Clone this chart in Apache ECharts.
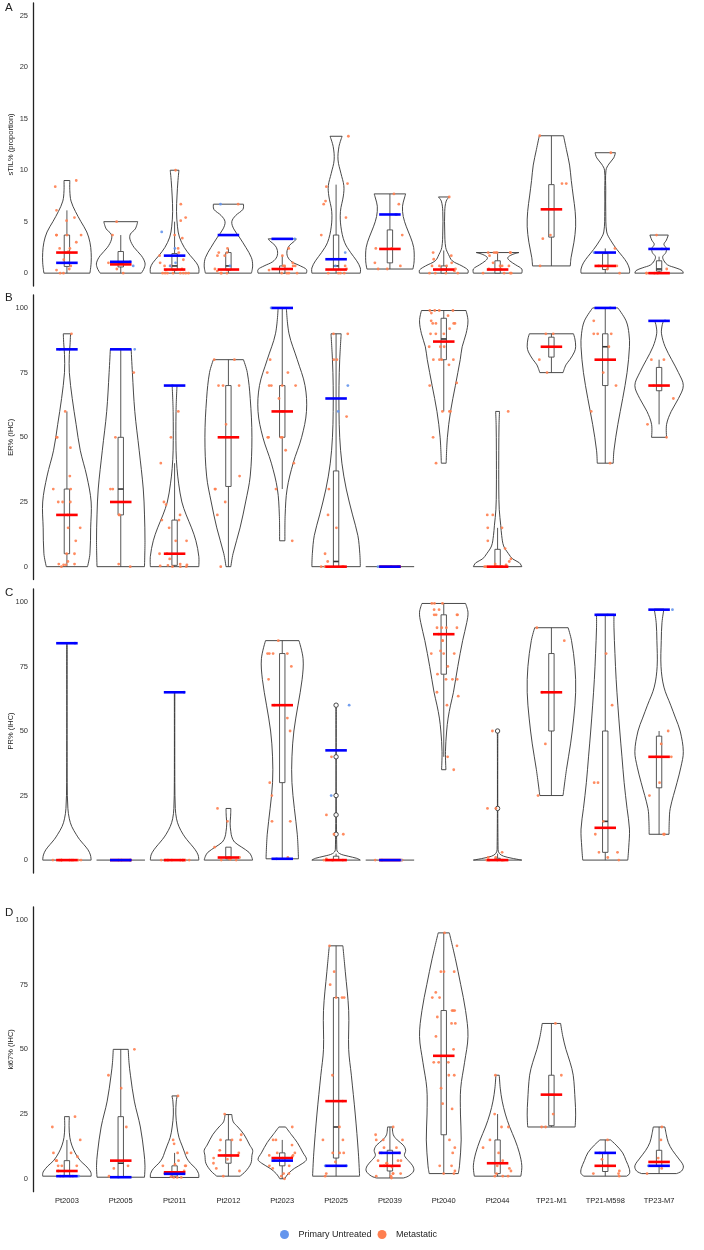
<!DOCTYPE html>
<html>
<head>
<meta charset="utf-8">
<script src="https://cdn.jsdelivr.net/npm/echarts@6.0.0/dist/echarts.min.js"></script>
<style>
html,body{margin:0;padding:0;background:#fff;}
#chart{width:704px;height:1250px;}
</style>
</head>
<body>
<div id="chart"></div>
<script>
var cats=['Pt2003','Pt2005','Pt2011','Pt2012','Pt2023','Pt2025','Pt2039','Pt2040','Pt2044','TP21-M1','TP21-M598','TP23-M7'];

// violin outlines: [value, relative half width]
var tilViolin=[
	[[0,0.95],[1,1],[2,1],[3,0.95],[4,0.82],[5,0.58],[6,0.35],[7,0.17],[8,0.12],[9,0.12]],
	[[0,0.85],[0.5,0.97],[1,1],[1.7,0.85],[2.5,0.55],[3.3,0.38],[3.8,0.4],[4.3,0.6],[5,0.7]],
	[[0,1],[0.5,1],[1,0.9],[1.7,0.65],[2.5,0.4],[3.5,0.2],[4.5,0.12],[6,0.08],[7.5,0.1],[9,0.14],[10,0.18]],
	[[0,0.95],[0.7,1],[1.5,0.95],[2.5,0.72],[3.5,0.45],[4.3,0.22],[5,0.14],[5.6,0.3],[6.2,0.6],[6.7,0.62]],
	[[0,1],[0.35,1],[0.7,0.75],[1.1,0.4],[1.6,0.22],[2.2,0.2],[2.7,0.3],[3.1,0.5],[3.33,0.58]],
	[[0,1],[0.5,1],[1.2,0.85],[2,0.6],[3,0.35],[4.5,0.2],[6,0.18],[7.5,0.3],[8.5,0.32],[9.7,0.2],[11,0.08],[12.3,0.12],[13.3,0.25]],
	[[0.4,0.95],[1.2,1],[2.5,0.98],[3.5,0.85],[4.5,0.68],[5.5,0.55],[6.5,0.52],[7.3,0.6],[7.7,0.65]],
	[[0,1],[0.3,1],[0.7,0.75],[1.2,0.35],[1.8,0.2],[2.5,0.08],[4,0.04],[6,0.04],[7,0.1],[7.4,0.22]],
	[[0,1],[0.4,1],[0.8,0.75],[1.2,0.5],[1.5,0.42],[1.8,0.6],[2,0.88]],
	[[0.7,0.78],[1.5,0.81],[3,0.93],[4.5,1],[6,0.98],[7.5,0.9],[9,0.82],[10.5,0.75],[12,0.62],[13.35,0.5]],
	[[0,1],[0.4,1],[1,0.9],[1.6,0.72],[2.3,0.48],[3.2,0.22],[4,0.06],[6,0.02],[8,0.02],[10,0.03],[10.6,0.15],[11.2,0.35],[11.7,0.42]],
	[[0,1],[0.25,0.95],[0.5,0.7],[0.8,0.35],[1.2,0.2],[1.6,0.15],[2,0.28],[2.4,0.3],[2.8,0.2],[3.2,0.3],[3.7,0.38]]
];
var erViolin=[
	[[0,0.85],[5,0.95],[15,0.98],[25,1],[35,0.82],[45,0.55],[55,0.38],[65,0.22],[75,0.1],[82,0.1],[86,0.13],[90,0.15]],
	[[0,0.98],[10,1],[20,0.98],[30,0.93],[45,0.76],[60,0.58],[75,0.48],[84,0.43]],
	[[0,1],[4,1],[10,0.88],[15,0.7],[20,0.48],[25,0.3],[32,0.17],[38,0.1],[45,0.06],[60,0.06],[70,0.1]],
	[[0,0.1],[5,0.19],[15,0.48],[25,0.71],[35,0.9],[50,0.97],[65,0.9],[75,0.78],[80,0.62]],
	[[10,0.11],[20,0.12],[30,0.2],[40,0.45],[50,0.8],[60,1],[70,0.94],[80,0.62],[90,0.28],[100,0.17]],
	[[0,1],[5,0.98],[12,0.9],[20,0.68],[30,0.42],[40,0.24],[50,0.15],[60,0.12],[70,0.12],[80,0.15],[90,0.21]],
	[[0,1]],
	[[40,0.1],[50,0.15],[60,0.28],[70,0.48],[80,0.68],[85,0.76],[90,0.92],[95,1],[99,0.92]],
	[[0,1],[1.5,0.9],[3,0.62],[5,0.45],[8,0.25],[12,0.17],[16,0.13],[22,0.07],[30,0.05],[45,0.05],[55,0.06],[60,0.08]],
	[[75,0.48],[78,0.6],[80,0.76],[83,0.95],[85,1],[88,0.97],[90,0.91]],
	[[40,0.33],[45,0.36],[55,0.52],[65,0.72],[75,0.9],[85,1],[90,0.98],[95,0.86],[100,0.52]],
	[[50,0.31],[55,0.31],[60,0.5],[65,0.8],[70,1],[75,0.8],[80,0.52],[85,0.25],[90,0.1],[93,0.12],[95,0.18]]
];
var prViolin=[
	[[0,1],[2,0.97],[4,0.87],[6,0.7],[8,0.52],[10,0.38],[13,0.2],[16,0.1],[20,0.04],[30,0.01],[84,0.01]],
	[[0,1]],
	[[0,1],[2,0.97],[4,0.85],[6,0.68],[8,0.5],[10,0.35],[13,0.18],[16,0.08],[20,0.03],[30,0.01],[65,0.01]],
	[[0,1],[1.5,0.95],[3,0.85],[5,0.55],[7,0.25],[9,0.14],[11,0.1],[14,0.07],[17,0.09],[20,0.1]],
	[[0.5,0.67],[10,0.62],[20,0.5],[30,0.4],[40,0.4],[50,0.48],[60,0.65],[70,0.82],[78,0.86],[85,0.69]],
	[[0,1],[0.7,0.85],[1.5,0.5],[2.5,0.15],[4,0.03],[60,0.01]],
	[[0,1]],
	[[35,0.09],[42,0.07],[50,0.12],[55,0.18],[60,0.28],[65,0.4],[75,0.58],[85,0.78],[92,0.95],[96,1],[99.4,0.9]],
	[[0,1],[0.7,0.6],[1.5,0.25],[2.5,0.08],[4,0.02],[50,0.01]],
	[[25,0.48],[35,0.62],[45,0.79],[55,0.92],[65,1],[75,0.97],[85,0.83],[90,0.69]],
	[[0,0.93],[5,0.97],[12,1],[20,0.9],[30,0.78],[40,0.69],[50,0.6],[60,0.52],[70,0.45],[80,0.4],[90,0.36],[95.2,0.36]],
	[[10,0.41],[15,0.42],[20,0.46],[30,0.74],[36,0.9],[42,1],[50,0.87],[55,0.68],[60,0.48],[67,0.2],[75,0.08],[85,0.09],[92,0.12],[97.2,0.2]]
];
var kiViolin=[
	[[1,1],[2,1],[3,0.96],[5,0.78],[7,0.55],[10,0.34],[13,0.2],[16,0.12],[20,0.09],[24,0.1]],
	[[0.6,0.98],[5,1],[10,0.96],[20,0.81],[30,0.56],[40,0.4],[45,0.34],[50,0.31]],
	[[0.5,1],[2,0.99],[4,0.87],[6,0.65],[8,0.5],[10,0.42],[13,0.3],[16,0.18],[20,0.1],[25,0.05],[30,0.07],[32,0.11]],
	[[1,0.48],[3,0.72],[6,0.93],[9,0.97],[11,1],[13,0.88],[17,0.65],[20,0.39],[22,0.2],[24.8,0.14]],
	[[0,0.1],[2,0.25],[4,0.5],[6,0.85],[7.5,1],[10,0.86],[14,0.62],[17,0.38],[20,0.14]],
	[[1,0.97],[10,0.92],[25,0.79],[40,0.63],[50,0.52],[65,0.52],[80,0.38],[90,0.28]],
	[[0.3,0.55],[1,0.76],[3,0.98],[5,0.94],[7,0.76],[9,0.6],[11,0.65],[13,0.55],[15,0.3],[17,0.14],[20,0.1]],
	[[2,0.6],[5,0.65],[15,0.72],[25,0.69],[35,0.7],[45,0.86],[55,1],[65,0.9],[75,0.7],[85,0.48],[95,0.23]],
	[[1,0.96],[5,1],[10,0.9],[15,0.72],[20,0.5],[25,0.32],[30,0.19],[35,0.11],[40,0.07]],
	[[20,0.98],[25,1],[30,0.98],[40,0.9],[45,0.77],[50,0.6],[55,0.47],[60,0.38]],
	[[1,0.88],[2,1],[4,0.99],[7,0.86],[10,0.72],[13,0.45],[15,0.22]],
	[[2,0.72],[3,0.93],[5,1],[8,0.79],[11,0.55],[14,0.38],[17,0.3],[20,0.24]]
];

// box stats: [low whisker, q1, median, q3, high whisker]
var tilBox=[[0,0.65,2,3.7,6.1],[0,0.6,0.9,2.1,3.7],[0,0.3,0.7,1.9,5],[0,0.3,0.7,2,2.4],[0,0,0.4,0.7,1.7],[0,0.35,0.7,3.7,8.6],
	[0.4,1,2.35,4.2,7.7],[0,0,0.35,0.7,2.2],[0,0,0.35,1.2,2],[0.7,3.5,6.2,8.6,13.35],[0,0.35,0.7,1.9,2.4],[0,0.2,0.4,1.2,1.6]];
var erBox=[[0,5,20,30,60],[0,20,30,50,84],[0,0.5,5,18,40],[0,31,50,70,80],[30,50,60,70,100],[0,0,2,37,90],
	[0,0,0,0,0],[60,80,88,96,99],[0,0,0,6.7,15],[75,81,85,88.7,90],[40,70,85,90,100],[55,68,70,77,80]];
var prBox=[[0,0,0,0,0],[0,0,0,0,0],[0,0,0,0,0],[0,0.5,1,5,5],[0.5,30,60,80,85],[0,0,0,1.5,2.5],
	[0,0,0,0,0],[40,72,87.5,95,99.4],[0,0,0,0.7,2.5],[25,50,65,80,90],[0,3,15,50,95.2],[10,28,40,48,50]];
var kiBox=[[1,1,3,7,15],[0.6,0.6,6,24,50],[0.5,1,2.5,5,10],[1,6,9,15,25],[0,5,8,10,15],[1,8,20,70,90],
	[0.3,3,5,11,20],[2,17,47.5,65,95],[1,2,6,15,25],[20,20.5,32.5,40,60],[1,2.8,5,10,15],[2,5,6.5,11,20]];
var prOutliers=[[],[],[],[],[],[10,17.5,25,40,60],[],[],[20,50],[],[],[]];

// metastatic samples
var tilMeta=[
	[9,8.4,6.1,5.4,5.1,3.7,3.7,3.7,3.7,3,2.4,2.4,2.1,1.3,0.7,0.4,0.3,0,0],
	[5,3.7,1,0.4,0],
	[10,6.7,5.4,5.1,3.4,3.7,2.4,2,1.7,1.3,1,0.7,0.7,0.4,0.3,0,0,0,0,0,0,0,0],
	[6.7,2.4,2,2,1.7,1.7,0.4,0.2,0,0,0],
	[2.4,1.7,1,0.7,0.7,0.7,0.7,0.3,0,0,0,0],
	[13.3,8.7,8.4,7,6.7,5.4,3.7,0.7,0.4,0,0,0,0],
	[7.7,6.7,5.7,3.7,2.4,2.4,1,0.7,0.4,0.4],
	[7.4,2,1.7,1.35,1,0.7,0.7,0.7,0.4,0.2,0,0,0,0],
	[2,2,2,2,2,2,1.7,1,0.7,0.7,0.7,0.4,0.4,0,0,0,0],
	[13.35,8.7,8.7,3.7,3.35,0.7],
	[11.7,2.4,0.7,0.7,0.4,0],
	[3.7,0.4,0,0,0,0]
];
var erMeta=[
	[90,60,50,50,46,35,30,30,25,25,25,20,15,15,10,5,5,2,1,0.7,0.7,1,0],
	[75,50,30,30,20,20,1,0],
	[60,50,40,25,24,20,18,18,15,10,10,5,5,3,1,0.7,0.3,0,0,0,0.5],
	[80,80,70,70,70,55,35,30,30,25,20,0],
	[80,75,75,70,70,70,70,65,60,50,50,50,50,45,40,30,10],
	[90,90,80,80,58,30,20,15,5,2,0,0,0,0],
	[0,0,0],
	[99,98,97,99,99,99,95,94,94,94,94,92,90,90,90,85,85,85,80,80,80,80,78,71,70,60,60,60,50,40],
	[60,20,20,15,15,10,7,3,2,0,0,0,0,0,0.7,1],
	[90,90,80,75],
	[95,90,90,90,85,75,70,60,40],
	[80,80,70,65,55,50]
];
var prMeta=[
	[0,0,0,0,0,0,0,0,0,0],
	[0,0,0],
	[0,0,0,0,0,0,0,0,0,0],
	[20,15,5,1,1,0,0.3,0.5,0],
	[85,80,80,80,80,75,70,60,55,50,30,25,15,15,1],
	[40,10,10,17.5,0,0,0,0,0,0.5],
	[0,0,0,0],
	[99.4,99.4,99.4,97,95,97,95,95,95,90,90,90,90,87.5,85,85,81,80,80,80,75,70,70,72,65,63.5,60,40,35,70],
	[50,20,20,3,1,1,0,0,0,0,0,0],
	[90,85,65,45,25],
	[80,60,30,30,15,10,1,3,3,0],
	[50,45,30,25,40,40,10,10]
];
var kiMeta=[
	[24,20,15,10,10,8.5,7,7,5,5,5,3,1,1,1,1],
	[50,40,35,20,5,4,1],
	[32,15,13.5,10,10,7,5.5,5,5,5,3,2,2,2,0.5,0.5,0.5,0.8],
	[25,17,15,15,15,11,10,9,9,8,7.5,6,4,3,1],
	[20,15,15,13,10,10,9,9,8.5,8,5,5,4,2,2,1,0],
	[90,80,75,70,70,70,40,30,20,15,15,10,10,10,6.5,2,1],
	[20,17,15,15,15,12,12,10,10,7,7,7,6,6,5,4.5,2,2,2,1,0.3,1],
	[95,90,80,80,80,70,70,72,65,65,65,62.5,60,60,55,50,45,45,45,40,40,35,29,27,15,12,10,5,5,3,2,2],
	[40,25,20,20,15,12,10,7,5,4,3,2,1,1,1],
	[60,40,25,20,20],
	[15,10,7.5,3,2,2,1],
	[20,15,8,4,2]
];

// primary untreated samples
var tilPrim=[[1],[0.7,1.1],[4,2.4,1,0.7],[6.7,0.7],[3.33],[2,0.7],[5.7],[],[],[],[2],[2.35]];
var erPrim=[[84],[84],[70],[],[100],[70,60],[0],[],[],[],[100],[95]];
var prPrim=[[84],[0],[65],[],[0.5],[60,25],[0],[],[],[],[95],[97]];
var kiPrim=[[1],[0.6],[2.5],[],[7],[5,5],[10],[],[],[],[10],[5]];

// group medians
var tilMetaMed=[2,0.85,0.35,0.35,0.4,0.35,2.35,0.35,0.35,6.2,0.7,0];
var tilPrimMed=[1,1.1,1.7,3.7,3.33,1.35,5.7,null,null,null,2,2.35];
var erMetaMed=[20,25,5,50,60,0,0,87,0,85,80,70];
var erPrimMed=[84,84,70,null,100,65,0,null,null,null,100,95];
var prMetaMed=[0,0,0,1,60,0,0,87.5,0,65,12.5,40];
var prPrimMed=[84,0,65,null,0.5,42.5,0,null,null,null,95,97];
var kiMetaMed=[3,7,2.5,9,8,30,5,47.5,6,32.5,5,6.5];
var kiPrimMed=[1,0.6,1.9,null,7,5,10,null,null,null,10,5];

var tilTicks=[0,5,10,15,20,25];
var pctTicks=[0,25,50,75,100];

var panels=[
	{letter:'A',name:'sTIL% (proportion)',min:-1.25,max:26.25,ticks:tilTicks,violin:tilViolin,box:tilBox,meta:tilMeta,prim:tilPrim,metaMed:tilMetaMed,primMed:tilPrimMed,outl:null},
	{letter:'B',name:'ER% (IHC)',min:-5,max:105,ticks:pctTicks,violin:erViolin,box:erBox,meta:erMeta,prim:erPrim,metaMed:erMetaMed,primMed:erPrimMed,outl:null},
	{letter:'C',name:'PR% (IHC)',min:-5,max:105,ticks:pctTicks,violin:prViolin,box:prBox,meta:prMeta,prim:prPrim,metaMed:prMetaMed,primMed:prPrimMed,outl:prOutliers},
	{letter:'D',name:'ki67% (IHC)',min:-5,max:105,ticks:pctTicks,violin:kiViolin,box:kiBox,meta:kiMeta,prim:kiPrim,metaMed:kiMetaMed,primMed:kiPrimMed,outl:null}
];
var tops=[3,295,589,907];
var heights=[283,284.6,284,284.7];
var letterTops=[2,292,587,907];

var FONT='Liberation Sans';
var META_COLOR='#FF7F50';
var PRIM_COLOR='#6495ED';

function jitter(p,g,k){
	var s=Math.sin(p*97.13+g*13.71+k*7.31+1.7)*43758.5453;
	return (s-Math.floor(s))*2-1;
}

function violinSeries(p,knotsArr){
	return {
		type:'custom',xAxisIndex:p,yAxisIndex:p,silent:true,z:1,
		data:knotsArr.map(function(k,i){return [i,k[0][0]];}),
		renderItem:function(params,api){
			var g=api.value(0);
			var knots=knotsArr[g];
			var band=api.size([1,0])[0];
			var hw=band*0.45;
			var st={stroke:'#333',lineWidth:0.9,fill:null};
			var right=[],left=[];
			for(var i=0;i<knots.length;i++){
				var c=api.coord([g,knots[i][0]]);
				right.push([c[0]+hw*knots[i][1],c[1]]);
				left.push([c[0]-hw*knots[i][1],c[1]]);
			}
			var n=knots.length-1;
			var ch=[
				{type:'line',shape:{x1:left[0][0],y1:left[0][1],x2:right[0][0],y2:right[0][1]},style:st}
			];
			if(n>0){
				ch.push({type:'line',shape:{x1:left[n][0],y1:left[n][1],x2:right[n][0],y2:right[n][1]},style:st});
				ch.push({type:'polyline',shape:{points:right,smooth:0.35},style:st});
				ch.push({type:'polyline',shape:{points:left,smooth:0.35},style:st});
			}
			return {type:'group',children:ch};
		}
	};
}

function boxSeries(p,boxArr,outl){
	return {
		type:'custom',xAxisIndex:p,yAxisIndex:p,silent:true,z:2,
		data:boxArr.map(function(b,i){return [i,b[0],b[1],b[2],b[3],b[4]];}),
		renderItem:function(params,api){
			var g=api.value(0);
			var b=boxArr[g];
			if(b[0]==b[4] && (!outl || outl[g].length==0)){
				return {type:'group',children:[]};
			}
			var band=api.size([1,0])[0];
			var bw=band*0.1;
			var lo=api.coord([g,b[0]]),q1=api.coord([g,b[1]]),md=api.coord([g,b[2]]),q3=api.coord([g,b[3]]),hi=api.coord([g,b[4]]);
			var st={stroke:'#444',lineWidth:0.9};
			var ch=[
				{type:'line',shape:{x1:lo[0],y1:lo[1],x2:q1[0],y2:q1[1]},style:st},
				{type:'line',shape:{x1:q3[0],y1:q3[1],x2:hi[0],y2:hi[1]},style:st},
				{type:'rect',shape:{x:q3[0]-bw/2,y:q3[1],width:bw,height:Math.max(q1[1]-q3[1],0.5)},style:{stroke:'#444',lineWidth:0.9,fill:'#fff'}},
				{type:'line',shape:{x1:md[0]-bw/2,y1:md[1],x2:md[0]+bw/2,y2:md[1]},style:{stroke:'#333',lineWidth:1.6}}
			];
			if(outl){
				outl[g].forEach(function(v){
					var c=api.coord([g,v]);
					ch.push({type:'circle',shape:{cx:c[0],cy:c[1],r:2.2},style:{stroke:'#333',lineWidth:0.9,fill:'#fff'}});
				});
			}
			return {type:'group',children:ch};
		}
	};
}

function pointSeries(p,name,vals,color){
	var data=[];
	for(var g=0;g<vals.length;g++){
		for(var k=0;k<vals[g].length;k++){
			data.push([g,vals[g][k],k]);
		}
	}
	var seed=name=='Metastatic'?0:50;
	return {
		type:'custom',name:name,xAxisIndex:p,yAxisIndex:p,silent:true,z:3,
		itemStyle:{color:color},
		data:data,
		renderItem:function(params,api){
			var g=api.value(0),v=api.value(1),k=api.value(2);
			var c=api.coord([g,v]);
			var band=api.size([1,0])[0];
			return {type:'circle',shape:{cx:c[0]+jitter(p+seed,g,k)*band*0.28,cy:c[1],r:1.4},style:{fill:color,opacity:0.9}};
		}
	};
}

function medianSeries(p,meds,color,z){
	var data=[];
	for(var g=0;g<meds.length;g++){
		if(meds[g]!=null){
			data.push([g,meds[g]]);
		}
	}
	return {
		type:'custom',xAxisIndex:p,yAxisIndex:p,silent:true,z:z,
		data:data,
		renderItem:function(params,api){
			var g=api.value(0);
			var c=api.coord([g,api.value(1)]);
			var band=api.size([1,0])[0];
			var w=band*0.2;
			return {type:'line',shape:{x1:c[0]-w,y1:c[1],x2:c[0]+w,y2:c[1]},style:{stroke:color,lineWidth:2.6}};
		}
	};
}

var grids=[],xAxes=[],yAxes=[],series=[],graphics=[];
for(var p=0;p<panels.length;p++){
	var P=panels[p];
	grids.push({left:40,right:18,top:tops[p],height:heights[p],containLabel:false,outerBoundsMode:'none'});
	xAxes.push({
		gridIndex:p,type:'category',data:cats,boundaryGap:true,
		axisLine:{show:false},axisTick:{show:false},splitLine:{show:false},
		axisLabel:{show:p==3,interval:0,fontSize:7.5,color:'#222',margin:5,fontFamily:FONT}
	});
	yAxes.push({
		gridIndex:p,type:'value',min:P.min,max:P.max,offset:7,
		axisLine:{show:true,lineStyle:{color:'#222',width:1.3}},
		axisTick:{show:false},splitLine:{show:false},
		axisLabel:{customValues:P.ticks,fontSize:7.5,color:'#333',margin:5,fontFamily:FONT},
		name:P.name,nameLocation:'middle',nameGap:18,nameMoveOverlap:false,
		nameTextStyle:{fontSize:7.5,color:'#222',fontFamily:FONT}
	});
	series.push(violinSeries(p,P.violin));
	series.push(boxSeries(p,P.box,P.outl));
	series.push(pointSeries(p,'Metastatic',P.meta,META_COLOR));
	series.push(pointSeries(p,'Primary Untreated',P.prim,PRIM_COLOR));
	series.push(medianSeries(p,P.metaMed,'#FF0000',4));
	series.push(medianSeries(p,P.primMed,'#0000FF',5));
	graphics.push({type:'text',left:5,top:letterTops[p],style:{text:P.letter,fontSize:11.5,fill:'#222',fontFamily:FONT}});
}

var chart=echarts.init(document.getElementById('chart'),null,{renderer:'canvas'});
chart.setOption({
	animation:false,
	backgroundColor:'#fff',
	textStyle:{fontFamily:FONT},
	grid:grids,
	xAxis:xAxes,
	yAxis:yAxes,
	legend:{
		data:['Primary Untreated','Metastatic'],
		left:275,top:1225,icon:'circle',itemWidth:18,itemHeight:9,itemGap:6,
		textStyle:{fontSize:9,color:'#222',fontFamily:FONT},
		selectedMode:false
	},
	graphic:graphics,
	series:series
});
</script>
</body>
</html>
